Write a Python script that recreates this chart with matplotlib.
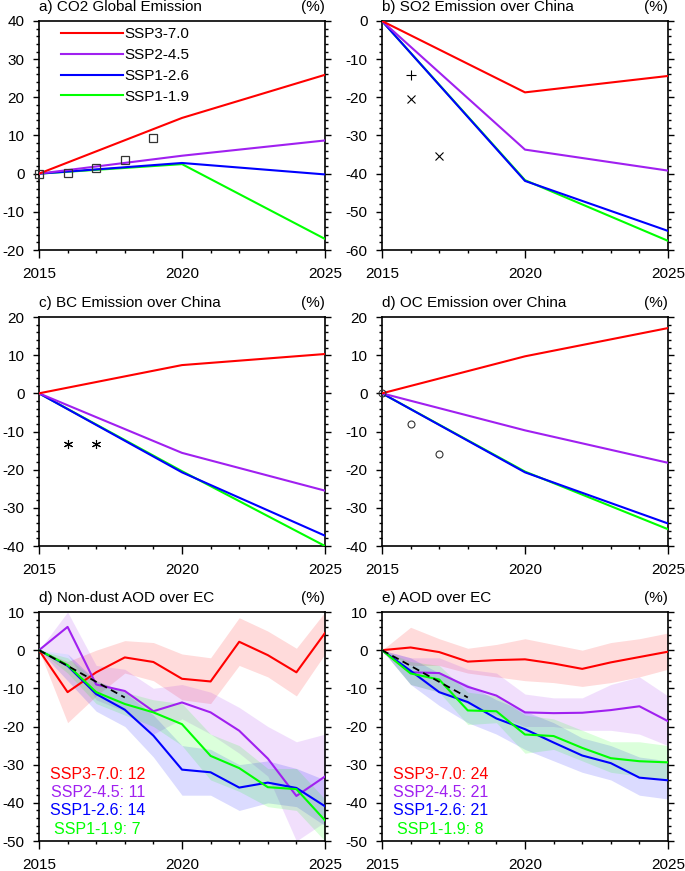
"""Emission and AOD changes (%) under SSP scenarios, 2015-2025."""

import matplotlib
matplotlib.use("Agg")
import matplotlib.pyplot as plt
import numpy as np
from matplotlib.ticker import MultipleLocator

plt.rcParams["font.family"] = ["Liberation Sans", "DejaVu Sans"]
plt.rcParams["axes.unicode_minus"] = False

scenarios = ["SSP3-7.0", "SSP2-4.5", "SSP1-2.6", "SSP1-1.9"]
colors = ["#ff0000", "#a020f0", "#0000ff", "#00ff00"]

# emission panels: values at 2015, 2020, 2025
emis_years = [2015, 2020, 2025]
co2_global = [[0, 14.6, 25.9], [0, 4.7, 8.7], [0, 2.8, -0.2], [0, 2.5, -17.1]]
so2_china = [[0, -18.7, -14.4], [0, -33.7, -39.2], [0, -41.9, -55.0], [0, -41.7, -57.6]]
bc_china = [[0, 7.4, 10.3], [0, -15.6, -25.5], [0, -20.7, -37.3], [0, -20.4, -40.0]]
oc_china = [[0, 9.7, 17.1], [0, -9.7, -18.2], [0, -20.7, -34.1], [0, -20.5, -35.6]]

# observed / inventory points
co2_obs_years = [2015, 2016, 2017, 2018, 2019]
co2_obs = [0, 0.3, 1.5, 3.7, 9.4]
so2_plus_years = [2016]
so2_plus = [-14.2]
so2_cross_years = [2016, 2017]
so2_cross = [-20.5, -35.3]
bc_star_years = [2016, 2017]
bc_star = [-13.4, -13.4]
oc_circ_years = [2015, 2016, 2017]
oc_circ = [0, -8.0, -16.0]

# AOD panels: yearly ensemble means and spread
aod_years = list(range(2015, 2026))
ndaod_mean = [
    [0, -11.0, -5.8, -1.9, -3.1, -7.5, -8.2, 2.2, -1.3, -5.8, 4.5],
    [0, 6.1, -9.0, -10.7, -16.0, -13.7, -16.3, -21.1, -28.4, -38.2, -33.1],
    [0, -4.1, -11.5, -15.6, -22.4, -31.3, -32.0, -36.0, -34.7, -36.1, -40.9],
    [0, -3.9, -11.0, -14.1, -16.3, -19.4, -27.7, -30.9, -35.9, -36.4, -44.6],
]
ndaod_low = [
    [0, -19, -12, -6, -8, -13, -14, -4, -7, -12, -1],
    [0, -1, -13, -16, -22, -18, -22, -27, -33, -50, -45],
    [0, -8, -16, -20, -28, -38, -38, -42, -40, -41, -46],
    [0, -6, -14, -17, -20, -25, -34, -37, -41, -42, -50],
]
ndaod_high = [
    [0, -3, 0, 2.5, 2, -1, -2, 8.5, 5, 0.5, 10],
    [0, 10, -4, -5, -10, -9, -11, -15, -20, -24, -22],
    [0, -1, -8, -11, -17, -25, -26, -30, -29, -31, -34],
    [0, -2, -8, -11, -13, -14, -22, -25, -31, -31, -39],
]
aod_mean = [
    [0, 0.7, -0.5, -3.0, -2.6, -2.4, -3.5, -4.9, -3.2, -1.8, -0.4],
    [0, -5.8, -6.0, -9.6, -11.9, -16.3, -16.5, -16.4, -15.7, -14.7, -18.6],
    [0, -5.4, -11.0, -13.6, -17.9, -20.7, -24.2, -27.6, -29.6, -33.4, -34.1],
    [0, -6.1, -7.7, -15.8, -16.0, -22.1, -22.5, -25.6, -28.3, -29.1, -29.4],
]
aod_low = [
    [0, -4, -4, -6, -7, -8, -8.5, -9.5, -8.5, -7, -5],
    [0, -9, -11, -14, -17, -20, -20, -21, -21, -22, -25],
    [0, -9, -14.5, -19, -22, -26, -29, -32, -34, -38, -39],
    [0, -9, -11, -19.5, -19, -27, -26, -29, -32, -33, -34],
]
aod_high = [
    [0, 6, 3, 0.5, 1.5, 3, 1.5, 0, 2, 3, 4.5],
    [0, -2, -2, -5, -6, -11.5, -12.5, -12.5, -9, -7, -12],
    [0, -2, -6, -9, -13, -16, -19, -23, -25, -28, -29],
    [0, -3, -4, -11, -12, -17, -18, -21, -24, -24, -25],
]
trend_years = [2015, 2016, 2017, 2018]
ndaod_trend = [0, -4.1, -8.3, -12.4]
aod_trend = [0, -4.1, -8.3, -12.4]

ndaod_counts = [12, 11, 14, 7]
aod_counts = [24, 21, 21, 8]


def style_axes(ax, title, ylim, ymajor):
    ax.set_xlim(2015, 2025)
    ax.set_ylim(*ylim)
    ax.set_xticks([2015, 2020, 2025])
    ax.xaxis.set_minor_locator(MultipleLocator(1))
    ax.yaxis.set_major_locator(MultipleLocator(ymajor))
    ax.yaxis.set_minor_locator(MultipleLocator(ymajor / 5))
    ax.tick_params(which="both", direction="out", top=False, right=True,
                   labelright=False, width=1.0, labelsize=11)
    ax.tick_params(which="major", length=4.5, pad=6)
    ax.tick_params(which="minor", length=2.2)
    ax.tick_params(axis="x", which="major", length=6, pad=6)
    for sp in ax.spines.values():
        sp.set_linewidth(1.2)
    ax.set_title(title, loc="left", fontsize=11, pad=7)
    ax.set_title("(%)", loc="right", fontsize=11, pad=7)


fig = plt.figure(figsize=(6.85, 8.71), dpi=100)
W, H = 685.0, 871.0
lefts = [39, 382]
tops = [21, 317, 612]
axw, axh = 286, 229
axes = []
for r in range(3):
    row = []
    for c in range(2):
        ax = fig.add_axes([lefts[c] / W, 1 - (tops[r] + axh) / H, axw / W, axh / H])
        row.append(ax)
    axes.append(row)

emis_panels = [
    (axes[0][0], co2_global, "a) CO2 Global Emission", (-20, 40)),
    (axes[0][1], so2_china, "b) SO2 Emission over China", (-60, 0)),
    (axes[1][0], bc_china, "c) BC Emission over China", (-40, 20)),
    (axes[1][1], oc_china, "d) OC Emission over China", (-40, 20)),
]
for ax, data, title, ylim in emis_panels:
    for k, (vals, col, name) in enumerate(zip(data, colors, scenarios)):
        ax.plot(emis_years, vals, color=col, lw=1.5, label=name, zorder=6 - k)
    style_axes(ax, title, ylim, 10)

ax = axes[0][0]
ax.plot(co2_obs_years, co2_obs, ls="none", marker="s", ms=5.5, mfc="none",
        mec="#333333", mew=0.9, zorder=7, clip_on=False)
leg = ax.legend(loc="upper left", bbox_to_anchor=(0.055, 1.0), frameon=False,
                fontsize=11, handlelength=4.1, handletextpad=0.05,
                labelspacing=0.45, borderpad=0.0, borderaxespad=0.4)

ax = axes[0][1]
ax.plot(so2_plus_years, so2_plus, ls="none", marker="+", ms=6.5, mec="black", mew=0.8)
ax.plot(so2_cross_years, so2_cross, ls="none", marker="x", ms=5.5, mec="black", mew=0.8)

ax = axes[1][0]
ax.plot(bc_star_years, bc_star, ls="none", marker=(6, 2, 0), ms=6.5, mec="black", mew=0.8)

ax = axes[1][1]
ax.plot(oc_circ_years, oc_circ, ls="none", marker="o", ms=5, mfc="none",
        mec="#333333", mew=0.8, zorder=7, clip_on=False)

aod_panels = [
    (axes[2][0], ndaod_mean, ndaod_low, ndaod_high, ndaod_trend, ndaod_counts,
     "d) Non-dust AOD over EC"),
    (axes[2][1], aod_mean, aod_low, aod_high, aod_trend, aod_counts,
     "e) AOD over EC"),
]
for ax, mean, low, high, trend, counts, title in aod_panels:
    for lo, hi, col in zip(low, high, colors):
        ax.fill_between(aod_years, lo, hi, color=col, alpha=0.14, lw=0, zorder=1)
    for vals, col in zip(mean, colors):
        ax.plot(aod_years, vals, color=col, lw=1.5, zorder=3)
    ax.plot(trend_years, trend, color="black", lw=1.3, ls=(0, (4, 2.5)), zorder=4)
    style_axes(ax, title, (-50, 10), 10)
    for i, (name, n, col) in enumerate(zip(scenarios, counts, colors)):
        ax.text(0.205, 0.292 - i * 0.08, f"{name}: {n}", color=col, fontsize=11.5,
                ha="center", va="center", transform=ax.transAxes)

fig.savefig("out.png", dpi=100)
